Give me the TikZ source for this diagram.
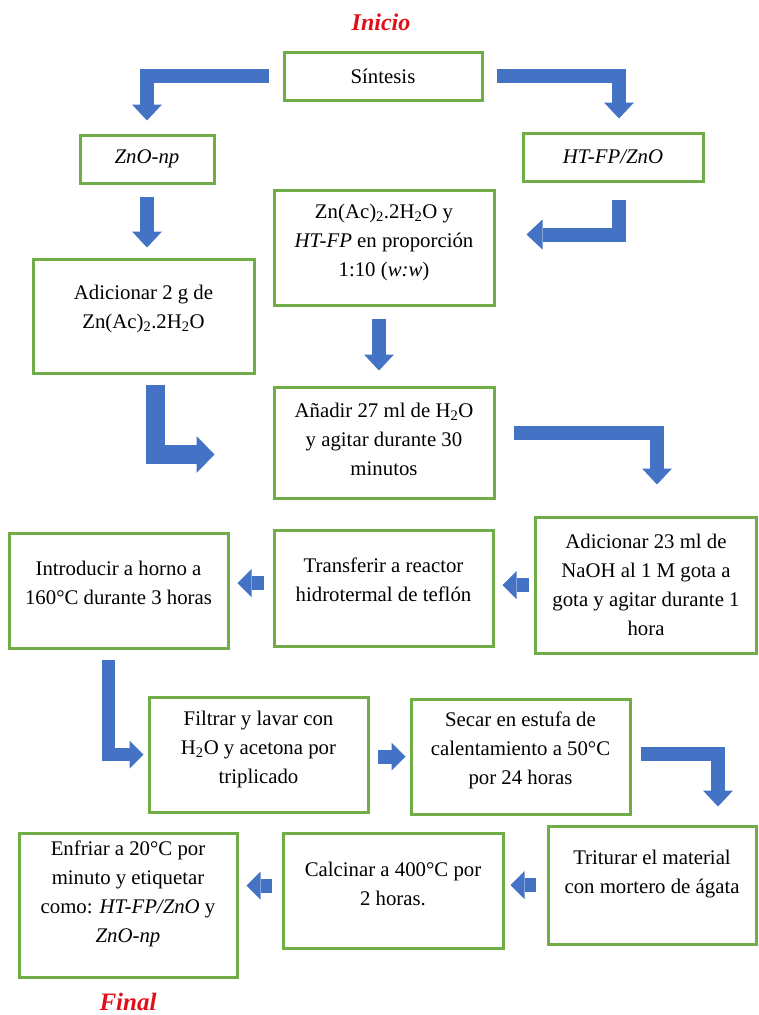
\documentclass[tikz,border=0pt]{standalone}
\usepackage{fontspec}
\setmainfont{Liberation Serif}
\usetikzlibrary{arrows.meta}
\definecolor{verdeCaja}{RGB}{112,173,71}
\definecolor{azulFlecha}{RGB}{68,114,196}
\definecolor{rojoTitulo}{RGB}{225,15,25}

\begin{document}
\begin{tikzpicture}[
  x=1pt, y=-1pt,
  box/.style={draw=verdeCaja, line width=3pt, fill=white, align=center, inner sep=2pt,
              font=\fontsize{20.8}{29}\selectfont},
  titulo/.style={text=rojoTitulo, font=\fontsize{24}{28}\selectfont\bfseries\itshape},
  flecha/.style={draw=azulFlecha, line width=14pt, -{Triangle[length=16pt, width=30pt, line width=0pt]}},
  flechaG/.style={flecha, line width=19pt, -{Triangle[length=18pt, width=37pt, line width=0pt]}},
  flechaC/.style={flecha, -{Triangle[length=14pt, width=28pt, line width=0pt]}}
]
\useasboundingbox (0,0) rectangle (759,1015);

% Fila 1: Inicio y Sintesis
\node[titulo] (ini) at (381,22) {Inicio};
\node[box, minimum width=198pt, minimum height=48pt] (sint) at (383,76) {Síntesis};

% Fila 2: las dos rutas
\node[box, minimum width=134pt, minimum height=48pt] (znonp) at (147,159) {\textit{ZnO-np}};
\node[box, minimum width=180pt, minimum height=48pt] (htfp) at (613,157) {\textit{HT-FP/ZnO}};

% Fila 3: precursores
\node[box, minimum width=220pt, minimum height=115pt] (znac) at (384,247.5)
  {Zn(Ac)\textsubscript{2}.2H\textsubscript{2}O y\\\textit{HT-FP} en proporción\\1:10 (\textit{w:w})\\[-15pt]};
\node[box, minimum width=221pt, minimum height=114pt] (adic2) at (143.5,316)
  {Adicionar 2 g de\\Zn(Ac)\textsubscript{2}.2H\textsubscript{2}O\\[-10pt]};
\node[box, minimum width=220pt, minimum height=111pt] (anadir) at (384,442.5)
  {Añadir 27 ml de H\textsubscript{2}O\\y agitar durante 30\\minutos\\[-22pt]};

% Fila 4: reaccion
\node[box, minimum width=221pt, minimum height=136pt] (adic23) at (646,585)
  {Adicionar 23 ml de\\NaOH al 1 M gota a\\gota y agitar durante 1\\hora};
\node[box, minimum width=219pt, minimum height=116pt] (transf) at (383.5,588)
  {Transferir a reactor\\hidrotermal de teflón\\[-13pt]};
\node[box, minimum width=219pt, minimum height=115pt] (introd) at (118.5,590.5)
  {Introducir a horno a\\160°C durante 3 horas\\[-13pt]};

% Fila 5: lavado y secado
\node[box, minimum width=219pt, minimum height=115pt] (filtrar) at (258.5,754.5)
  {Filtrar y lavar con\\H\textsubscript{2}O y acetona por\\triplicado\\[-15pt]};
\node[box, minimum width=219pt, minimum height=115pt] (secar) at (520.5,756.5)
  {Secar en estufa de\\calentamiento a 50°C\\por 24 horas\\[-13pt]};

% Fila 6: tratamiento final
\node[box, minimum width=208pt, minimum height=118pt] (trit) at (652,885)
  {Triturar el material\\con mortero de ágata\\[-3pt]};
\node[box, minimum width=220pt, minimum height=115pt] (calc) at (393,890.5)
  {Calcinar a 400°C por\\2 horas.\\[-16pt]};
\node[box, minimum width=218pt, minimum height=144pt] (enfr) at (128,905)
  {Enfriar a 20°C por\\minuto y etiquetar\\como: \textit{HT-FP/ZnO} y\\\textit{ZnO-np}\\[-3pt]};
\node[titulo, font=\fontsize{25}{28}\selectfont\bfseries\itshape] (fin) at (128,1002) {Final};

% Conexiones
\draw[flecha, shorten <=14pt, shorten >=13pt] (sint.west) -| (znonp.north);
\draw[flecha, shorten <=13pt, shorten >=13pt] (sint.east) -| ([xshift=6pt]htfp.north);
\draw[flecha, shorten <=12pt, shorten >=10pt] (znonp.south) -- (znonp.south |- adic2.north);
\draw[flecha, shorten <=17pt, shorten >=31pt] ([xshift=6pt]htfp.south) |- ([yshift=13pt]znac.east);
\draw[flecha, shorten <=12pt, shorten >=15pt] ([xshift=-5pt]znac.south) -- ([xshift=-5pt]anadir.north);
\draw[flechaG, shorten <=10pt, shorten >=58pt] ([xshift=12pt]adic2.south) |- ([yshift=-12pt]anadir.west);
\draw[flecha, shorten <=18pt, shorten >=31pt] ([yshift=10pt]anadir.east) -| ([xshift=11pt]adic23.north);
\draw[flechaC, shorten <=5pt, shorten >=8pt] (adic23.west) -- (adic23.west -| transf.east);
\draw[flechaC, shorten <=9pt, shorten >=8pt] ([yshift=5pt]transf.west) -- ([yshift=5pt]transf.west -| introd.east);
\draw[flechaC, line width=13pt, shorten <=10pt, shorten >=4pt] ([xshift=-10pt]introd.south) |- (filtrar.west);
\draw[flechaC, shorten <=8pt, shorten >=4pt] (secar.west -| filtrar.east) -- (secar.west);
\draw[flecha, shorten <=9pt, shorten >=18pt] ([yshift=3pt]secar.east) -| ([xshift=66pt]trit.north);
\draw[flechaC, shorten <=11pt, shorten >=6pt] (trit.west) -- (trit.west -| calc.east);
\draw[flechaC, shorten <=10pt, shorten >=8pt] ([yshift=5pt]calc.west) -- ([yshift=5pt]calc.west -| enfr.east);

\end{tikzpicture}
\end{document}
